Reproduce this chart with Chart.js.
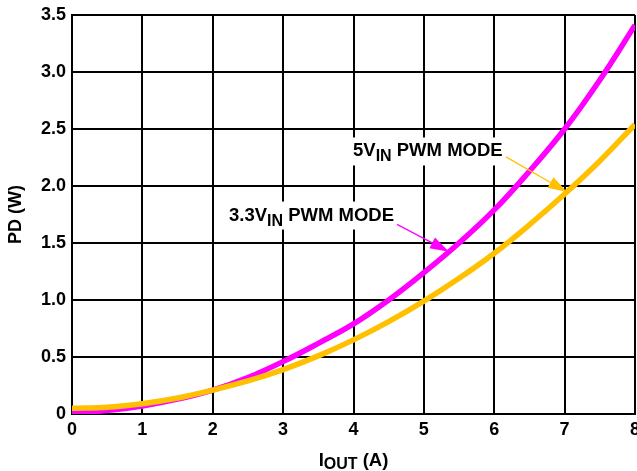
<!DOCTYPE html>
<html>
<head>
<meta charset="utf-8">
<script src="https://cdn.jsdelivr.net/npm/chart.js@4"></script>
<style>
  html, body { margin: 0; padding: 0; background: #fff; }
  #wrap { width: 637px; height: 471px; position: relative; }
</style>
</head>
<body>
<div id="wrap"><canvas id="c"></canvas></div>
<script>
// ---- data ----
const currentA = [0, 0.5, 1, 1.5, 2, 2.5, 3, 3.5, 4, 4.5, 5, 5.5, 6, 6.5, 7, 7.5, 8];
const pd33V = [0.01, 0.03, 0.07, 0.13, 0.21, 0.32, 0.46, 0.62, 0.79, 1.00, 1.24, 1.50, 1.79, 2.13, 2.50, 2.93, 3.41];
const pd5V  = [0.05, 0.06, 0.09, 0.14, 0.21, 0.29, 0.39, 0.51, 0.65, 0.81, 0.99, 1.19, 1.41, 1.66, 1.93, 2.22, 2.54];
const xTicks = [0, 1, 2, 3, 4, 5, 6, 7, 8];
const yTicks = [0, 0.5, 1.0, 1.5, 2.0, 2.5, 3.0, 3.5];

const FONT = '"Liberation Sans", Arial, Helvetica, sans-serif';
const MAGENTA = '#FF00FF';
const ORANGE = '#FFC000';

const toPts = (ys) => currentA.map((x, i) => ({ x: x, y: ys[i] }));

// annotations (data coordinates)
const notes = [
  { parts: [['3.3V', 18.5, 0], ['IN', 16, 5], [' PWM MODE', 18.5, 0]], x: 2.231, y: 1.697,
    arrow: { from: [4.618, 1.664], to: [5.357, 1.423], color: MAGENTA } },
  { parts: [['5V', 18.5, 0], ['IN', 16, 5], [' PWM MODE', 18.5, 0]], x: 3.993, y: 2.259,
    arrow: { from: [6.167, 2.255], to: [7.034, 1.948], color: ORANGE } }
];

function drawParts(ctx, parts, x, base) {
  let cx = x;
  ctx.textAlign = 'left';
  ctx.textBaseline = 'alphabetic';
  for (const [t, size, dy] of parts) {
    ctx.font = 'bold ' + size + 'px ' + FONT;
    ctx.fillText(t, cx, base + dy);
    cx += ctx.measureText(t).width;
  }
  return cx - x;
}
function measureParts(ctx, parts) {
  let w = 0;
  for (const [t, size] of parts) { ctx.font = 'bold ' + size + 'px ' + FONT; w += ctx.measureText(t).width; }
  return w;
}

const annotPlugin = {
  id: 'annot',
  afterDatasetsDraw(chart) {
    const ctx = chart.ctx, xs = chart.scales.x, ys = chart.scales.y;
    ctx.save();
    for (const n of notes) {
      const px = xs.getPixelForValue(n.x), py = ys.getPixelForValue(n.y);
      const w = measureParts(ctx, n.parts);
      ctx.fillStyle = '#fff';
      ctx.fillRect(px - 5, py - 19, w + 10, 28);
      ctx.fillStyle = '#000';
      drawParts(ctx, n.parts, px, py);
      // arrow
      const a = n.arrow;
      const x1 = xs.getPixelForValue(a.from[0]), y1 = ys.getPixelForValue(a.from[1]);
      const x2 = xs.getPixelForValue(a.to[0]), y2 = ys.getPixelForValue(a.to[1]);
      const ang = Math.atan2(y2 - y1, x2 - x1);
      const hl = 19, hw = 6;
      const bx = x2 - hl * Math.cos(ang), by = y2 - hl * Math.sin(ang);
      ctx.strokeStyle = a.color; ctx.fillStyle = a.color; ctx.lineWidth = 1.3;
      ctx.beginPath(); ctx.moveTo(x1, y1); ctx.lineTo(bx, by); ctx.stroke();
      ctx.beginPath();
      ctx.moveTo(x2, y2);
      ctx.lineTo(bx + hw * Math.sin(ang), by - hw * Math.cos(ang));
      ctx.lineTo(bx - hw * Math.sin(ang), by + hw * Math.cos(ang));
      ctx.closePath(); ctx.fill();
    }
    ctx.restore();
  },
  afterDraw(chart) {
    const ctx = chart.ctx, ca = chart.chartArea;
    ctx.save();
    ctx.fillStyle = '#000';
    // x title
    const xp = [['I', 18.5, 0], ['OUT', 16, 3], [' (A)', 18.5, 0]];
    const w = measureParts(ctx, xp);
    drawParts(ctx, xp, (ca.left + ca.right) / 2 - w / 2, 466);
    // y title
    ctx.translate(21, (ca.top + ca.bottom) / 2);
    ctx.rotate(-Math.PI / 2);
    ctx.font = 'bold 18px ' + FONT;
    ctx.textAlign = 'center';
    ctx.textBaseline = 'alphabetic';
    ctx.fillText('PD (W)', 0, 0);
    ctx.restore();
  }
};

new Chart(document.getElementById('c'), {
  type: 'line',
  data: {
    datasets: [
      { label: '5VIN PWM MODE', data: toPts(pd5V), borderColor: ORANGE, borderWidth: 5.5,
        pointRadius: 0, tension: 0.4, fill: false },
      { label: '3.3VIN PWM MODE', data: toPts(pd33V), borderColor: MAGENTA, borderWidth: 5.5,
        pointRadius: 0, tension: 0.4, fill: false }
    ]
  },
  options: {
    responsive: true,
    maintainAspectRatio: false,
    animation: false,
    devicePixelRatio: 1,
    layout: { padding: { top: 15, right: 2, left: 0, bottom: 0 } },
    plugins: { legend: { display: false }, tooltip: { enabled: false } },
    scales: {
      x: {
        type: 'linear', min: 0, max: 8,
        afterBuildTicks: (s) => { s.ticks = xTicks.map(v => ({ value: v })); },
        ticks: { color: '#000', font: { family: FONT, size: 18, weight: 'bold' }, padding: 5, maxRotation: 0 },
        grid: { color: '#000', lineWidth: 2, drawTicks: false },
        border: { color: '#000', width: 2 },
        afterFit: (s) => { s.height = 57; s.paddingLeft = 0; s.paddingRight = 0; }
      },
      y: {
        min: 0, max: 3.5,
        afterBuildTicks: (s) => { s.ticks = yTicks.map(v => ({ value: v })); },
        ticks: { color: '#000', font: { family: FONT, size: 18, weight: 'bold' }, padding: 6,
          callback: (v) => v === 0 ? '0' : v.toFixed(1) },
        grid: { color: '#000', lineWidth: 2, drawTicks: false },
        border: { color: '#000', width: 2 },
        afterFit: (s) => { s.width = 72; s.paddingTop = 0; s.paddingBottom = 0; }
      }
    }
  },
  plugins: [annotPlugin]
});
</script>
</body>
</html>
